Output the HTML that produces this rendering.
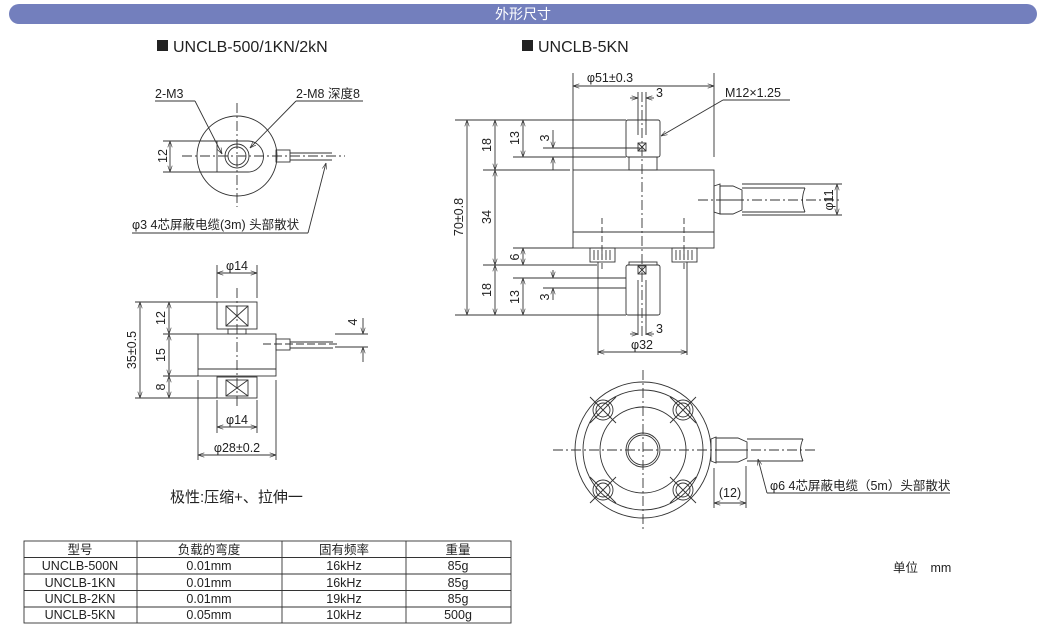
<!DOCTYPE html>
<html><head><meta charset="utf-8"><style>
html,body{margin:0;padding:0;background:#fff;}
svg{display:block;}
text{font-family:"Liberation Sans","Noto Sans CJK SC",sans-serif;fill:#222;}
</style></head><body>
<svg width="1046" height="628" viewBox="0 0 1046 628" xmlns="http://www.w3.org/2000/svg">
<defs>
<marker id="a" viewBox="0 0 10 10" refX="10" refY="5" markerWidth="7" markerHeight="7" orient="auto-start-reverse"><path d="M0,1.5 L10,5 L0,8.5" fill="none" stroke="#333" stroke-width="1"/></marker>
</defs>
<rect x="9" y="4" width="1028" height="20" rx="10" fill="#737fbd"/>
<text x="523" y="19" font-size="14" text-anchor="middle" style="fill:#fff">外形尺寸</text>

<g stroke="#333" stroke-width="0.9" fill="none">
<!-- LEFT TOP -->
<line x1="182" y1="156" x2="345" y2="156" stroke-dasharray="10,3,2,3"/>
<line x1="237" y1="103" x2="237" y2="207" stroke-dasharray="10,3,2,3"/>
<circle cx="237" cy="156" r="40"/>
<path d="M217,141 H248 A15.5,15.5 0 0 1 248,172 H217 Z"/>
<circle cx="237" cy="156" r="12"/><circle cx="237" cy="156" r="9"/>
<rect x="276" y="150" width="14" height="12"/>
<path d="M290,153 H332 M290,160 H332"/>
<path d="M163,141 H217 M163,172 H217"/>
<line x1="170" y1="141" x2="170" y2="172" marker-start="url(#a)" marker-end="url(#a)"/>
<path d="M155,101 H195"/><line x1="195" y1="101" x2="222" y2="154" marker-end="url(#a)"/>
<path d="M296,101 H363"/><line x1="296" y1="101" x2="250" y2="148" marker-end="url(#a)"/>
<path d="M132,233 H308"/><line x1="308" y1="233" x2="326" y2="163" marker-end="url(#a)"/>

<!-- LEFT BOTTOM -->
<line x1="237" y1="288" x2="237" y2="408" stroke-dasharray="10,3,2,3"/>
<rect x="217" y="302" width="40" height="27"/>
<path d="M226,306 L248,326 M248,306 L226,326"/><rect x="226" y="306" width="22" height="20"/>
<rect x="228" y="329" width="18" height="5"/>
<rect x="198" y="334" width="78" height="42"/><line x1="198" y1="369" x2="276" y2="369"/>
<rect x="217" y="377" width="40" height="21"/>
<rect x="226" y="380" width="22" height="16"/><path d="M226,380 L248,396 M248,380 L226,396"/>
<rect x="276" y="339" width="14" height="11"/>
<path d="M290,342 H333 M290,348 H333"/>
<line x1="263" y1="344" x2="340" y2="344" stroke-dasharray="8,3"/>
<path d="M217,298 V265 M257,298 V265 M217,400 V433 M257,400 V433 M198,380 V460 M276,380 V460"/>
<line x1="217" y1="273" x2="257" y2="273" marker-start="url(#a)" marker-end="url(#a)"/>
<line x1="217" y1="427" x2="257" y2="427" marker-start="url(#a)" marker-end="url(#a)"/>
<line x1="198" y1="455" x2="276" y2="455" marker-start="url(#a)" marker-end="url(#a)"/>
<path d="M135,302 H217 M135,398 H217 M163,334 H198 M163,376 H198"/>
<line x1="140" y1="302" x2="140" y2="398" marker-start="url(#a)" marker-end="url(#a)"/>
<line x1="169" y1="302" x2="169" y2="334" marker-start="url(#a)" marker-end="url(#a)"/>
<line x1="169" y1="334" x2="169" y2="376" marker-start="url(#a)" marker-end="url(#a)"/>
<line x1="169" y1="376" x2="169" y2="398" marker-start="url(#a)" marker-end="url(#a)"/>
<path d="M335,334 H368 M335,347 H368"/>
<line x1="363" y1="318" x2="363" y2="334" marker-end="url(#a)"/>
<line x1="363" y1="362" x2="363" y2="347" marker-end="url(#a)"/>

<!-- RIGHT SIDE VIEW -->
<line x1="642" y1="92" x2="642" y2="337" stroke-dasharray="10,3,2,3"/>
<line x1="698" y1="200" x2="840" y2="200" stroke-dasharray="10,3,2,3"/>
<rect x="573" y="170" width="141" height="78"/><line x1="573" y1="232" x2="714" y2="232"/>
<rect x="626" y="120" width="34" height="37" rx="2"/><rect x="629" y="157" width="28" height="13"/>
<rect x="626" y="265" width="34" height="50" rx="2"/><rect x="629" y="262" width="28" height="3"/>
<rect x="590" y="248" width="25" height="14"/><rect x="672" y="248" width="25" height="14"/>
<path d="M594,250V260M598,250V260M602,250V260M606,250V260M610,250V260M676,250V260M680,250V260M684,250V260M688,250V260M692,250V260"/>
<path d="M602,218 V270 M684,218 V270" stroke-dasharray="6,3"/>
<rect x="638" y="143" width="8" height="8"/><path d="M638,143 L646,151 M646,143 L638,151"/>
<rect x="638" y="266" width="8" height="8"/><path d="M638,266 L646,274 M646,266 L638,274"/>
<path d="M638,92 V135 M646,92 V135 M638,280 V335 M646,280 V335"/>
<path d="M714,186 L720,184 V214 L714,212 Z"/>
<path d="M720,186 H733 L742,190 V210 L733,214 H720 Z M720,200 H742"/>
<path d="M742,188 H805 M742,212 H805"/><path d="M805,188 Q800,200 805,212"/>
<path d="M573,73 V170 M714,73 V157"/>
<line x1="573" y1="86" x2="714" y2="86" marker-start="url(#a)" marker-end="url(#a)"/>
<line x1="630" y1="98" x2="638" y2="98" marker-end="url(#a)"/><line x1="654" y1="98" x2="646" y2="98" marker-end="url(#a)"/>
<line x1="630" y1="334" x2="638" y2="334" marker-end="url(#a)"/><line x1="654" y1="334" x2="646" y2="334" marker-end="url(#a)"/>
<path d="M723,100 H790"/><line x1="723" y1="100" x2="661" y2="136" marker-end="url(#a)"/>
<path d="M455,120 H626 M483,170 H570 M543,148 H640 M513,157 H626 M513,248 H573 M483,265 H597 M513,278 H626 M543,288 H626 M455,315 H626"/>
<line x1="467" y1="120" x2="467" y2="315" marker-start="url(#a)" marker-end="url(#a)"/>
<line x1="495" y1="120" x2="495" y2="170" marker-start="url(#a)" marker-end="url(#a)"/>
<line x1="495" y1="170" x2="495" y2="265" marker-start="url(#a)" marker-end="url(#a)"/>
<line x1="495" y1="265" x2="495" y2="315" marker-start="url(#a)" marker-end="url(#a)"/>
<line x1="523" y1="120" x2="523" y2="157" marker-start="url(#a)" marker-end="url(#a)"/>
<line x1="523" y1="248" x2="523" y2="265" marker-start="url(#a)" marker-end="url(#a)"/>
<line x1="523" y1="278" x2="523" y2="315" marker-start="url(#a)" marker-end="url(#a)"/>
<line x1="553" y1="130" x2="553" y2="148" marker-end="url(#a)"/><line x1="553" y1="170" x2="553" y2="157" marker-end="url(#a)"/>
<line x1="553" y1="270" x2="553" y2="278" marker-end="url(#a)"/><line x1="553" y1="300" x2="553" y2="288" marker-end="url(#a)"/>
<path d="M598,262 V355 M687,262 V355"/>
<line x1="598" y1="352" x2="687" y2="352" marker-start="url(#a)" marker-end="url(#a)"/>
<path d="M742,184 H842 M742,215 H842"/>
<line x1="837" y1="184" x2="837" y2="215" marker-start="url(#a)" marker-end="url(#a)"/>

<!-- RIGHT TOP VIEW -->
<line x1="553" y1="450" x2="817" y2="450" stroke-dasharray="10,3,2,3"/>
<line x1="643" y1="370" x2="643" y2="530" stroke-dasharray="10,3,2,3"/>
<circle cx="643" cy="450" r="68"/><circle cx="643" cy="450" r="60"/><circle cx="643" cy="450" r="43"/>
<circle cx="643" cy="450" r="17"/><circle cx="643" cy="450" r="15"/>
<g id="b"><circle cx="603" cy="410" r="10"/><circle cx="603" cy="410" r="7"/><path d="M590,397 L616,423 M616,397 L590,423"/></g>
<use href="#b" x="80"/><use href="#b" y="80"/><use href="#b" x="80" y="80"/>
<path d="M711,439 L716,437 V463 L711,461 Z"/>
<path d="M716,438 H738 L747,442 V458 L738,462 H716 Z M716,450 H747"/>
<path d="M747,439 H803 M747,461 H803"/><path d="M803,439 Q798,450 803,461"/>
<path d="M714,468 V508 M746,466 V508"/>
<line x1="714" y1="503" x2="746" y2="503" marker-start="url(#a)" marker-end="url(#a)"/>
<path d="M950,493 H767"/><line x1="767" y1="493" x2="758" y2="459" marker-end="url(#a)"/>

<!-- TABLE -->
<rect x="24" y="541" width="487" height="82"/>
<path d="M24,557.5 H511 M24,574 H511 M24,590.5 H511 M24,607 H511 M137,541 V623 M282,541 V623 M406,541 V623"/>
</g>

<g font-size="13">
<text x="155" y="98" font-size="12.5">2-M3</text>
<text x="296" y="98" font-size="12.5">2-M8 深度8</text>
<text x="132" y="229" font-size="12.5">φ3 4芯屏蔽电缆(3m) 头部散状</text>
<text x="237" y="270" font-size="12.5" text-anchor="middle">φ14</text>
<text x="237" y="424" font-size="12.5" text-anchor="middle">φ14</text>
<text x="237" y="452" font-size="12.5" text-anchor="middle">φ28±0.2</text>
<text x="170" y="502" font-size="15">极性:压缩+、拉伸一</text>
<text x="610" y="82" font-size="12.5" text-anchor="middle">φ51±0.3</text>
<text x="656" y="97" font-size="12.5">3</text>
<text x="656" y="333" font-size="12.5">3</text>
<text x="725" y="97" font-size="12.5">M12×1.25</text>
<text x="642" y="349" font-size="12.5" text-anchor="middle">φ32</text>
<text x="730" y="497" font-size="12.5" text-anchor="middle">(12)</text>
<text x="770" y="490" font-size="12.5">φ6 4芯屏蔽电缆（5m）头部散状</text>
<text x="893" y="572" font-size="12.5">单位　mm</text>
</g>
<g font-size="12.5" text-anchor="middle">
<text transform="translate(167,156) rotate(-90)">12</text>
<text transform="translate(136,350) rotate(-90)">35±0.5</text>
<text transform="translate(165,318) rotate(-90)">12</text>
<text transform="translate(165,355) rotate(-90)">15</text>
<text transform="translate(165,387) rotate(-90)">8</text>
<text transform="translate(357,322) rotate(-90)">4</text>
<text transform="translate(463,217) rotate(-90)">70±0.8</text>
<text transform="translate(491,145) rotate(-90)">18</text>
<text transform="translate(491,217) rotate(-90)">34</text>
<text transform="translate(491,290) rotate(-90)">18</text>
<text transform="translate(519,138) rotate(-90)">13</text>
<text transform="translate(519,257) rotate(-90)">6</text>
<text transform="translate(519,297) rotate(-90)">13</text>
<text transform="translate(549,138) rotate(-90)">3</text>
<text transform="translate(549,297) rotate(-90)">3</text>
<text transform="translate(833,200) rotate(-90)">φ11</text>
</g>
<rect x="157" y="40" width="11" height="11" fill="#222"/>
<text x="173" y="52" font-size="16">UNCLB-500/1KN/2kN</text>
<rect x="522" y="40" width="11" height="11" fill="#222"/>
<text x="538" y="52" font-size="16">UNCLB-5KN</text>
<g font-size="12.5" text-anchor="middle">
<text x="80" y="554">型号</text><text x="209" y="554">负载的弯度</text><text x="344" y="554">固有频率</text><text x="458" y="554">重量</text>
<text x="80" y="570">UNCLB-500N</text><text x="209" y="570">0.01mm</text><text x="344" y="570">16kHz</text><text x="458" y="570">85g</text>
<text x="80" y="587">UNCLB-1KN</text><text x="209" y="587">0.01mm</text><text x="344" y="587">16kHz</text><text x="458" y="587">85g</text>
<text x="80" y="603">UNCLB-2KN</text><text x="209" y="603">0.01mm</text><text x="344" y="603">19kHz</text><text x="458" y="603">85g</text>
<text x="80" y="619">UNCLB-5KN</text><text x="209" y="619">0.05mm</text><text x="344" y="619">10kHz</text><text x="458" y="619">500g</text>
</g>
</svg>
</body></html>
